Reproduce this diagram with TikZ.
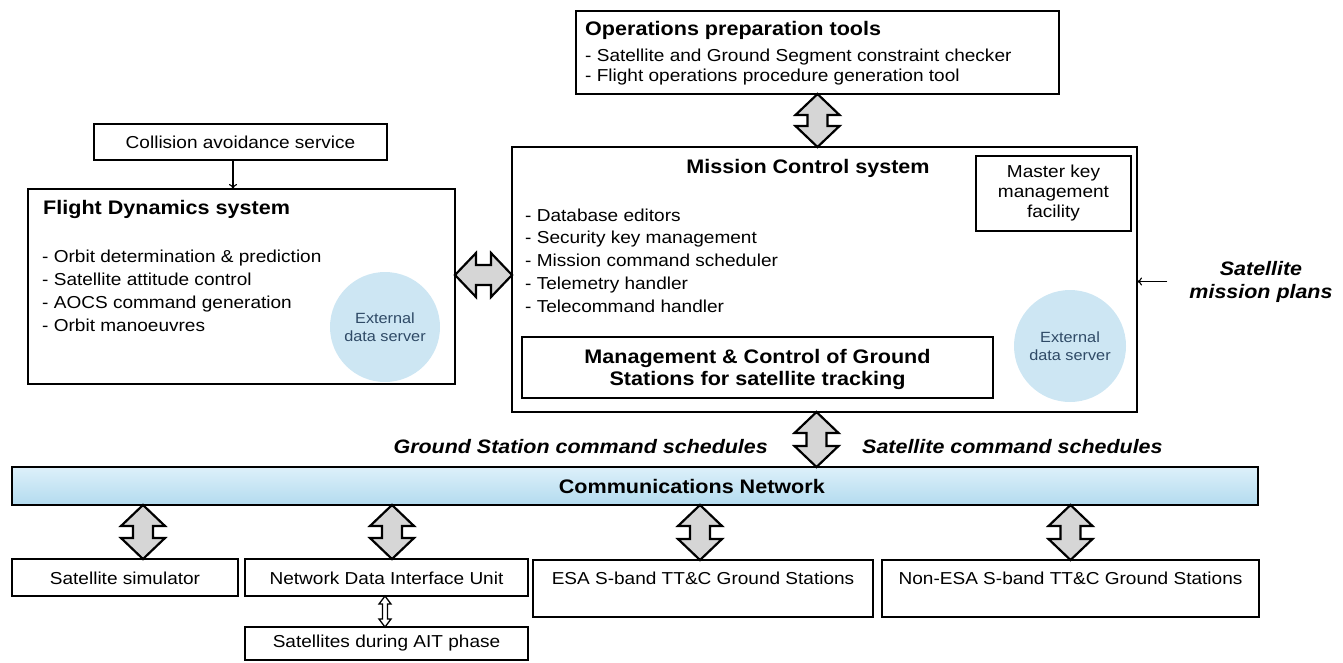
\documentclass[tikz,border=0pt]{standalone}
\usepackage{fontspec}
\setmainfont{Liberation Sans}[FakeStretch=1.1]
\usetikzlibrary{calc,arrows.meta}
\definecolor{arrgray}{HTML}{D6D6D6}
\definecolor{bartop}{HTML}{DDF0FA}
\definecolor{barbot}{HTML}{B3DBEF}
\definecolor{srvblue}{HTML}{CDE6F3}
\definecolor{srvtext}{HTML}{2F4A66}
\newcommand{\vdbl}[6]{%
  \draw[#1] let \p1=#2, \p2=#3 in
    (\x1,\y1) -- (\x1+#4,\y1-#5) -- (\x1+#6,\y1-#5) -- (\x1+#6,\y2+#5) -- (\x1+#4,\y2+#5) -- (\x1,\y2)
    -- (\x1-#4,\y2+#5) -- (\x1-#6,\y2+#5) -- (\x1-#6,\y1-#5) -- (\x1-#4,\y1-#5) -- cycle;}
\newcommand{\hdbl}[6]{%
  \draw[#1] let \p1=#2, \p2=#3 in
    (\x1,\y1) -- (\x1+#5,\y1+#4) -- (\x1+#5,\y1+#6) -- (\x2-#5,\y1+#6) -- (\x2-#5,\y1+#4) -- (\x2,\y1)
    -- (\x2-#5,\y1-#4) -- (\x2-#5,\y1-#6) -- (\x1+#5,\y1-#6) -- (\x1+#5,\y1-#4) -- cycle;}
\tikzset{
  box/.style={draw, line width=2.6pt, rectangle, inner sep=0pt, outer sep=0pt, anchor=north west},
  bigarrow/.style={draw, line width=2.2pt, fill=arrgray, line join=miter},
  smallarrow/.style={draw, line width=1.3pt, fill=white, line join=miter},
  thinarrow/.style={line width=1.1pt, -{To[length=5pt,width=8pt]}},
  reg/.style={font=\fontsize{17.3pt}{20pt}\selectfont, inner sep=0pt},
  bold/.style={font=\fontsize{19.6pt}{22pt}\selectfont\bfseries, inner sep=0pt},
  bit/.style={font=\fontsize{19.5pt}{23pt}\selectfont\bfseries\itshape, inner sep=0pt},
  srv/.style={circle, fill=srvblue, inner sep=0pt},
  srvtxt/.style={font=\fontsize{14.8pt}{18pt}\selectfont, text=srvtext, align=center, inner sep=0pt},
}
\begin{document}
\begin{tikzpicture}[x=1pt,y=-1pt]
\useasboundingbox (0,0) rectangle (1343,662);
% boxes
\node[box, minimum width=483pt, minimum height=83pt] (ops) at (576,11) {};
\node[box, minimum width=293pt, minimum height=36pt] (coll) at (94,124) {};
\node[box, minimum width=427pt, minimum height=195pt] (fd) at (28,189) {};
\node[box, minimum width=625pt, minimum height=265pt] (mcs) at (512,147) {};
\node[box, minimum width=155pt, minimum height=75pt] (mkey) at (976,156) {};
\node[box, minimum width=471pt, minimum height=61pt] (mgmt) at (522,337) {};
\node[box, minimum width=1246pt, minimum height=38pt, top color=bartop, bottom color=barbot] (comm) at (12,467) {};
\node[box, minimum width=226pt, minimum height=37pt] (sim) at (12,559) {};
\node[box, minimum width=283pt, minimum height=37pt] (ndiu) at (245,559) {};
\node[box, minimum width=340pt, minimum height=57pt] (esa) at (533,560) {};
\node[box, minimum width=377pt, minimum height=57pt] (nonesa) at (882,560) {};
\node[box, minimum width=283pt, minimum height=33pt] (ait) at (245,627) {};
% external data servers
\node[srv, minimum size=110pt] (fdsrv) at (385,327) {};
\node[srv, minimum size=112pt] (mcssrv) at (1070,346) {};
\node[srvtxt] (fdsrvt) at (fdsrv.center) {External\\data server};
\node[srvtxt] (mcssrvt) at (mcssrv.center) {External\\data server};
% texts
\node[bold, anchor=west] (opst) at (585,30) {Operations preparation tools};
\node[reg, anchor=west, align=left, font=\fontsize{17.3pt}{20pt}\selectfont] (opsl) at (585,67) {- Satellite and Ground Segment constraint checker\\- Flight operations procedure generation tool};
\node[reg] (collt) at (coll.center) {Collision avoidance service};
\node[bold, anchor=west] (fdt) at (43,209) {Flight Dynamics system};
\node[reg, anchor=west, align=left, font=\fontsize{17.3pt}{23pt}\selectfont] (fdl) at (42,290.5) {- Orbit determination \& prediction\\- Satellite attitude control\\- AOCS command generation\\- Orbit manoeuvres};
\node[bold] (mcst) at (808,168) {Mission Control system};
\node[reg, anchor=west, align=left, font=\fontsize{17.3pt}{22.75pt}\selectfont] (mcsl) at (525,260.5) {- Database editors\\- Security key management\\- Mission command scheduler\\- Telemetry handler\\- Telecommand handler};
\node[reg, align=center, font=\fontsize{17.3pt}{20pt}\selectfont] (mkeyt) at (mkey.center) {Master key\\management\\facility};
\node[bold, align=center, font=\fontsize{19.6pt}{22pt}\selectfont\bfseries] (mgmtt) at (757.5,369) {Management \& Control of Ground\\Stations for satellite tracking};
\node[bit, align=center] (smp) at (1261,281.5) {Satellite\\mission plans};
\node[bit, anchor=east] (gsl) at (768,447) {Ground Station command schedules};
\node[bit, anchor=west] (scl) at (862,447) {Satellite command schedules};
\node[bold, anchor=east] (commt) at (825,486) {Communications Network};
\node[reg] (simt) at (125,578) {Satellite simulator};
\node[reg] (ndiut) at (386.5,578) {Network Data Interface Unit};
\node[reg] (esat) at (703,578) {ESA S-band TT\&C Ground Stations};
\node[reg] (nonesat) at (1070.5,578) {Non-ESA S-band TT\&C Ground Stations};
\node[reg] (aitt) at (386.5,643) {Satellites during AIT phase};
% big double arrows
\vdbl{bigarrow}{(ops.south)}{(ops.south |- mcs.north)}{22pt}{21pt}{10pt}
\vdbl{bigarrow}{([xshift=-8pt]mcs.south)}{([xshift=-8pt]mcs.south |- comm.north)}{22pt}{21pt}{10pt}
\hdbl{bigarrow}{([yshift=11.5pt]fd.east)}{([yshift=11.5pt]fd.east -| mcs.west)}{22pt}{21pt}{10pt}
\vdbl{bigarrow}{([xshift=18pt]sim.north |- comm.south)}{([xshift=18pt]sim.north)}{22pt}{21pt}{10pt}
\vdbl{bigarrow}{([xshift=5.5pt]ndiu.north |- comm.south)}{([xshift=5.5pt]ndiu.north)}{22pt}{21pt}{10pt}
\vdbl{bigarrow}{([xshift=-3pt]esa.north |- comm.south)}{([xshift=-3pt]esa.north)}{22pt}{21pt}{10pt}
\vdbl{bigarrow}{(nonesa.north |- comm.south)}{(nonesa.north)}{22pt}{21pt}{10pt}
\vdbl{smallarrow}{([xshift=-1.5pt]ndiu.south)}{([xshift=-1.5pt]ait.north)}{6pt}{8pt}{2.5pt}
% thin arrows
\draw[thinarrow] ([xshift=-7.5pt]coll.south) -- ([xshift=-7.5pt]coll.south |- fd.north);
\draw[thinarrow] ([xshift=-22pt]smp.west) -- (mcs.east |- smp.west);
\end{tikzpicture}
\end{document}
